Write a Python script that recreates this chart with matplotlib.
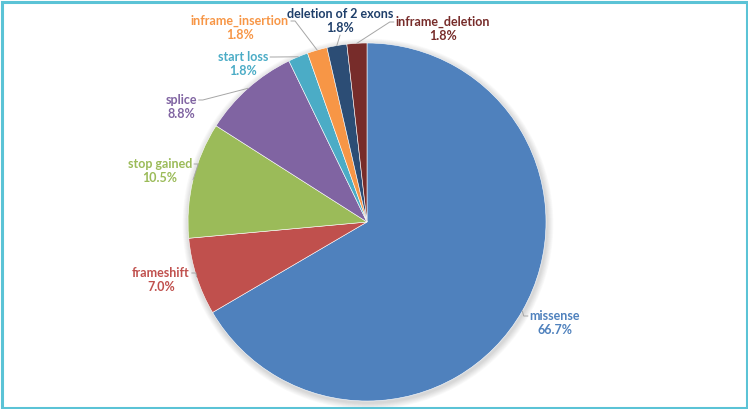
import numpy as np
import matplotlib.pyplot as plt
import matplotlib.patches as patches

#=============================================================================
# DATA
#=============================================================================

categories = ['missense', 'frameshift', 'stop gained', 'splice', 'start loss',
              'inframe_insertion', 'deletion of 2 exons', 'inframe_deletion']
percent = [66.7, 7.0, 10.5, 8.8, 1.8, 1.8, 1.8, 1.8]

slice_colors = ['#4F81BD', '#C0504D', '#9BBB59', '#8064A2', '#4BACC6',
                '#F79646', '#2C4D75', '#772C2A']
text_colors = ['#4F81BD', '#C0504D', '#9BBB59', '#8064A2', '#4BACC6',
               '#F79646', '#1F3F6A', '#772C2A']

# label layout in pixels (top-left origin): text centre and side the leader line leaves from
label_pos = {
    'missense':            ((555, 323), 'l'),
    'frameshift':          ((161, 280), 'r'),
    'stop gained':         ((160, 171), 'r'),
    'splice':              ((181, 107), 'r'),
    'start loss':          ((243, 64), 'r'),
    'inframe_insertion':   ((240, 28), 'r'),
    'deletion of 2 exons': ((340, 21), 'b'),
    'inframe_deletion':    ((443, 29), 'l'),
}

W, H = 748, 409
cx, cy, R = 367, 222, 179

#=============================================================================
# PLOT
#=============================================================================

fig = plt.figure(figsize=(W / 100, H / 100), dpi=100)
ax = fig.add_axes([0, 0, 1, 1])

# soft shadow behind the pie
for k in range(8, 0, -1):
    ax.add_patch(patches.Circle((cx + 1, cy + 2), R + k * 0.8, color='black',
                                alpha=0.018, lw=0, zorder=0))

wedges, _ = ax.pie(percent, colors=slice_colors, startangle=-90, counterclock=True,
                   center=(cx, cy), radius=R,
                   wedgeprops=dict(edgecolor='white', linewidth=0.4))

ax.set_xlim(0, W)
ax.set_ylim(H, 0)
ax.set_aspect('equal', adjustable='box')
ax.axis('off')

texts = []
for i, w in enumerate(wedges):
    name = categories[i]
    (tx, ty), side = label_pos[name]
    t = ax.text(tx, ty, name + '\n' + '%.1f%%' % percent[i], ha='center', va='center',
                color=text_colors[i], fontsize=9.0, fontweight='bold', family='Lato',
                linespacing=1.25, zorder=4)
    texts.append(t)

fig.canvas.draw()
renderer = fig.canvas.get_renderer()
inv = ax.transData.inverted()

for i, w in enumerate(wedges):
    (tx, ty), side = label_pos[categories[i]]
    bb = texts[i].get_window_extent(renderer)
    (x0, y0), (x1, y1) = inv.transform([[bb.x0, bb.y0], [bb.x1, bb.y1]])
    mid = np.deg2rad((w.theta1 + w.theta2) / 2.)
    px = cx + R * np.cos(mid)
    py = cy + R * np.sin(mid)
    ly = ty - 7
    if side == 'r':
        xs, ys = [x1 + 2, x1 + 6, px], [ly, ly, py]
    elif side == 'l':
        xs, ys = [x0 - 2, x0 - 6, px], [ly, ly, py]
    else:
        xs, ys = [tx, px], [max(y0, y1) + 1, py]
    ax.plot(xs, ys, color='#A6A6A6', lw=0.7, zorder=3)

# frame around the image
fig.patches.append(patches.Rectangle((1.5 / W, 1.5 / H), 1 - 3. / W, 1 - 3. / H,
                                     transform=fig.transFigure, fill=False,
                                     edgecolor='#5BC3D6', linewidth=2.2))

fig.savefig('out.png', dpi=100)
